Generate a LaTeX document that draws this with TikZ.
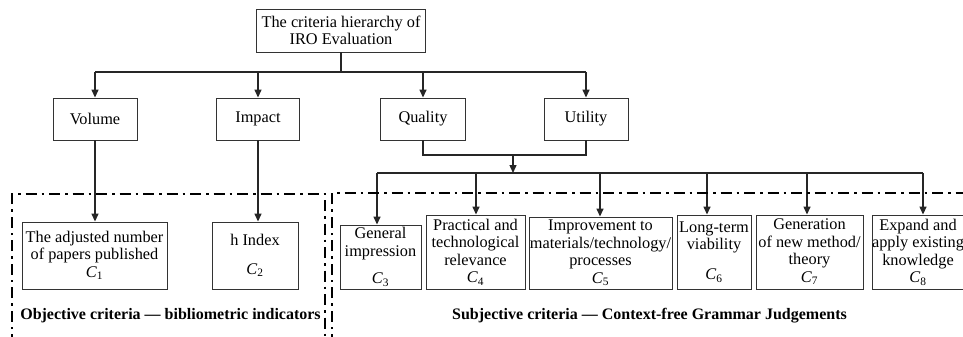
\documentclass[tikz,border=0pt]{standalone}
\usepackage{fontspec}
\setmainfont{Liberation Serif}
\usetikzlibrary{arrows.meta}

\newcommand{\crit}[1]{\textit{C}\textsubscript{#1}}

\tikzset{
  box/.style={draw=black!80, line width=0.9pt, align=center, inner sep=0pt,
    font=\fontsize{16.3}{17.5}\selectfont},
  link/.style={line width=1.4pt, black!85},
  arr/.style={link, -{Triangle[length=8pt,width=7pt]}},
  group/.style={line width=2.3pt, dash pattern=on 11pt off 5pt on 2.5pt off 5pt},
  grouplabel/.style={font=\fontsize{16}{18}\selectfont\bfseries},
}

\begin{document}
\begin{tikzpicture}[x=1pt,y=-1pt]
\useasboundingbox (0,0) rectangle (963,337);

% hierarchy
\node[box, minimum width=169pt, minimum height=43pt] (root) at (341,30.5) {The criteria hierarchy of\\IRO Evaluation};
\node[box, minimum width=84pt, minimum height=42pt] (vol)  at (95,119)  {Volume};
\node[box, minimum width=83pt, minimum height=42pt] (imp)  at (258,119) {Impact};
\node[box, minimum width=85pt, minimum height=42pt] (qual) at (423,119) {Quality};
\node[box, minimum width=84pt, minimum height=42pt] (util) at (586,119) {Utility};

% criteria
\node[box, minimum width=145pt, minimum height=67pt] (c1) at (94.5,255.5) {The adjusted number\\of papers published\\\crit{1}};
\node[box, minimum width=86pt,  minimum height=67pt] (c2) at (255,255.5)  {h Index\\[11pt]\crit{2}};
\node[box, minimum width=81pt,  minimum height=64pt] (c3) at (380.5,257)  {General\\impression\\[10pt]\crit{3}};
\node[box, minimum width=99pt,  minimum height=74pt] (c4) at (475.5,252)  {Practical and\\technological\\relevance\\\crit{4}};
\node[box, minimum width=143pt, minimum height=72pt] (c5) at (600.5,253)  {Improvement to\\materials/technology/\\processes\\\crit{5}};
\node[box, minimum width=74pt,  minimum height=74pt] (c6) at (714,252)    {Long-term\\viability\\[12pt]\crit{6}};
\node[box, minimum width=107pt, minimum height=74pt] (c7) at (809.5,252)  {Generation\\of new method/\\theory\\\crit{7}};
\node[box, minimum width=92pt,  minimum height=74pt] (c8) at (918,252)    {Expand and\\apply existing\\knowledge\\\crit{8}};

% upper bus
\coordinate (busL) at (95,72);
\coordinate (busR) at (586,72);
\draw[link] (root.south) -- (root.south |- busL);
\draw[link] (busL) -- (busR);
\draw[arr] (busL) -- (vol.north);
\draw[arr] (imp.north |- busL) -- (imp.north);
\draw[arr] (qual.north |- busL) -- (qual.north);
\draw[arr] (busR) -- (util.north);

\draw[arr] (vol.south) -- (vol.south |- c1.north);
\draw[arr] (imp.south) -- (imp.south |- c2.north);

% lower bus
\coordinate (mid) at (513,155);
\coordinate (bus2L) at (377,173);
\coordinate (bus2R) at (923,173);
\draw[link] (qual.south) |- (mid) -| (util.south);
\draw[arr] (mid) -- (mid |- bus2L);
\draw[link] (bus2L) -- (bus2R);
\foreach \x/\n in {377/c3,476/c4,600/c5,707/c6,807/c7,923/c8}{
  \coordinate (t) at (\x,173);
  \draw[arr] (t) -- (t |- \n.north);
}

% groups
\draw[group] (12,345) -- (12,194) -- (325,194) -- (325,345);
\draw[group] (332,345) -- (332,193) -- (975,193);
\node[grouplabel] (objlab)  at (170.5,316) {Objective criteria --- bibliometric indicators};
\node[grouplabel] (subjlab) at (649.5,316) {Subjective criteria --- Context-free Grammar Judgements};
\end{tikzpicture}
\end{document}
